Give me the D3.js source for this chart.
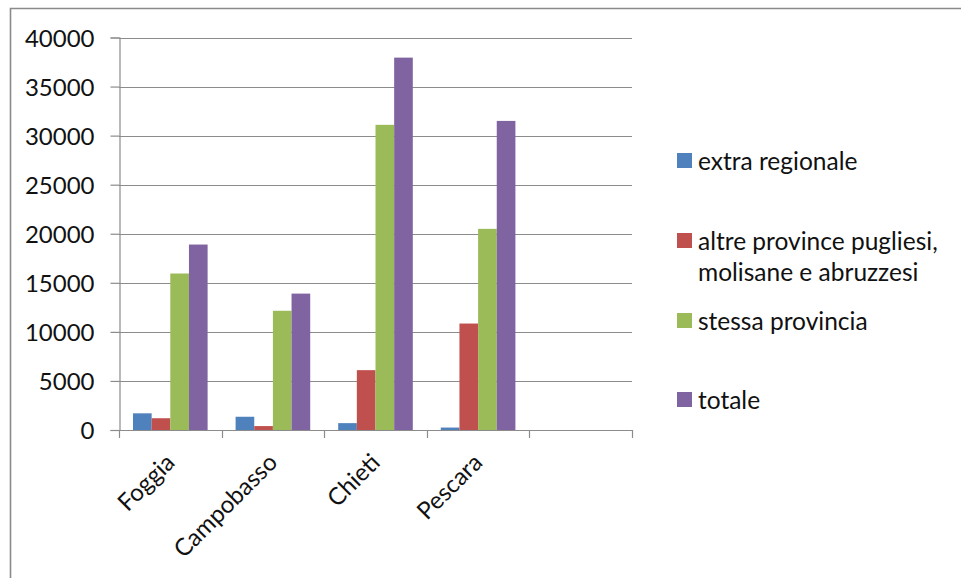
<!DOCTYPE html>
<html>
<head>
<meta charset="utf-8">
<script src="https://cdn.jsdelivr.net/npm/d3@7"></script>
<style>
  html, body { margin: 0; padding: 0; background: #fff; }
  svg { display: block; }
  text { font-family: Lato, "Open Sans", sans-serif; fill: #111; }
</style>
</head>
<body>
<svg id="chart" width="961" height="578"></svg>
<script>
// Province categories (one extra empty slot follows on the category axis)
const categories = ["Foggia", "Campobasso", "Chieti", "Pescara"];
const emptySlots = 1;

// Series names shown in the legend
const seriesNames = [
  "extra regionale",
  "altre province pugliesi, molisane e abruzzesi",
  "stessa provincia",
  "totale"
];

// Values per series, in category order
const extraRegionale = [1700, 1350, 700, 250];
const altreProvince = [1200, 400, 6100, 10850];
const stessaProvincia = [15950, 12150, 31100, 20500];
const totale = [18900, 13900, 37950, 31500];

const yTicks = [0, 5000, 10000, 15000, 20000, 25000, 30000, 35000, 40000];
const colors = ["#4F81BD", "#C0504D", "#9BBB59", "#8064A2"];

const seriesValues = [extraRegionale, altreProvince, stessaProvincia, totale];

const svg = d3.select("#chart");

// Outer chart frame (runs off the right and bottom edges)
svg.append("path")
  .attr("d", "M10.5,578 L10.5,8.5 L961,8.5")
  .attr("fill", "none")
  .attr("stroke", "#8a8a8a")
  .attr("stroke-width", 1.6);

const plot = { left: 119, right: 632, top: 37.5, bottom: 430 };

const x0 = d3.scaleBand()
  .domain(d3.range(categories.length + emptySlots))
  .range([plot.left, plot.right])
  .paddingInner(0).paddingOuter(0);

const bw = x0.bandwidth();
const barW = bw / 5.5; // 150% gap width
const x1 = d3.scaleBand()
  .domain(d3.range(seriesNames.length))
  .range([barW * 0.75, barW * 4.75])
  .padding(0);

const y = d3.scaleLinear().domain([0, 40000]).range([plot.bottom, plot.top]);

const gridColor = "#8c8c8c";

// Horizontal gridlines
svg.append("g")
  .selectAll("line")
  .data(yTicks.filter(t => t > 0))
  .join("line")
  .attr("x1", plot.left).attr("x2", plot.right)
  .attr("y1", d => Math.round(y(d)) + 0.5).attr("y2", d => Math.round(y(d)) + 0.5)
  .attr("stroke", gridColor).attr("stroke-width", 1.2);

// Bars
const groups = svg.append("g")
  .selectAll("g")
  .data(categories)
  .join("g")
  .attr("transform", (d, i) => `translate(${x0(i)},0)`);

groups.selectAll("rect")
  .data((d, i) => seriesValues.map((vals, s) => ({ s, v: vals[i] })))
  .join("rect")
  .attr("x", d => x1(d.s))
  .attr("width", x1.bandwidth())
  .attr("y", d => y(d.v))
  .attr("height", d => y(0) - y(d.v))
  .attr("fill", d => colors[d.s]);

// Value axis
const yAxis = d3.axisLeft(y).tickValues(yTicks).tickSize(9).tickPadding(16).tickFormat(d3.format("d"));
const gy = svg.append("g")
  .attr("transform", `translate(${plot.left + 0.5},0)`)
  .call(yAxis);
gy.select(".domain").attr("stroke", gridColor).attr("stroke-width", 1.2);
gy.selectAll(".tick line").attr("stroke", gridColor).attr("stroke-width", 1.2);
gy.selectAll(".tick text")
  .attr("font-size", 24)
  .attr("dy", "0.36em")
  .style("font-family", "Lato, sans-serif")
  .attr("fill", "#111");

// Category axis line and tick marks at band edges
const gx = svg.append("g");
gx.append("line")
  .attr("x1", plot.left).attr("x2", plot.right)
  .attr("y1", plot.bottom + 0.5).attr("y2", plot.bottom + 0.5)
  .attr("stroke", gridColor).attr("stroke-width", 1.2);
const edges = d3.range(categories.length + emptySlots + 1).map(i => plot.left + i * bw);
gx.selectAll("line.tk")
  .data(edges)
  .join("line")
  .attr("class", "tk")
  .attr("x1", d => Math.round(d) + 0.5).attr("x2", d => Math.round(d) + 0.5)
  .attr("y1", plot.bottom).attr("y2", plot.bottom + 8)
  .attr("stroke", gridColor).attr("stroke-width", 1.2);

// Rotated category labels
gx.selectAll("text")
  .data(categories)
  .join("text")
  .attr("transform", (d, i) => `translate(${x0(i) + bw / 2},${plot.bottom + 28}) rotate(-45)`)
  .attr("text-anchor", "end")
  .attr("dy", "0.35em")
  .attr("font-size", 24)
  .text(d => d);

// Legend
const legendItems = [
  { lines: ["extra regionale"], y: 161 },
  { lines: ["altre province pugliesi,", "molisane e abruzzesi"], y: 241 },
  { lines: ["stessa provincia"], y: 321 },
  { lines: ["totale"], y: 400 }
];
const legend = svg.append("g");
legendItems.forEach((item, i) => {
  legend.append("rect")
    .attr("x", 677).attr("y", item.y - 8)
    .attr("width", 15).attr("height", 15)
    .attr("fill", colors[i]);
  item.lines.forEach((ln, j) => {
    legend.append("text")
      .attr("x", 698)
      .attr("y", item.y + j * 31)
      .attr("dy", "0.35em")
      .attr("font-size", 24.5)
      .text(ln);
  });
});
</script>
</body>
</html>
